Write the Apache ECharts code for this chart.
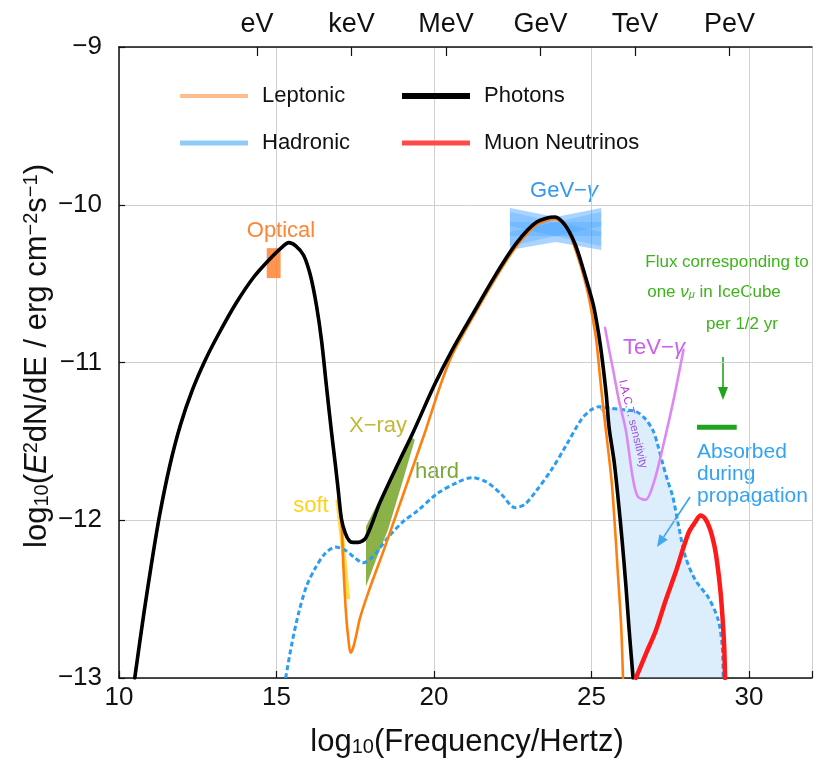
<!DOCTYPE html>
<html><head><meta charset="utf-8">
<script src="https://cdn.jsdelivr.net/npm/echarts@6/dist/echarts.min.js"></script>
<style>html,body{margin:0;padding:0;background:#fff}#c{width:815px;height:762px}</style>
</head><body><div id="c"></div><script>
const FONT = '"Liberation Sans", Arial, Helvetica, sans-serif';

// ---- data (log10 frequency [Hz], log10 flux [erg cm^-2 s^-1]) ----
const energyTicks = [14.38, 17.38, 20.38, 23.38, 26.38, 29.38];
const energyLabels = ['eV', 'keV', 'MeV', 'GeV', 'TeV', 'PeV'];

const photons = [[10.50,-13.00],[10.79,-12.59],[11.04,-12.265],[11.29,-11.967],[11.61,-11.656],[11.95,-11.396],[12.33,-11.174],[12.74,-10.984],[13.18,-10.813],[13.72,-10.623],[14.28,-10.458],[14.85,-10.331],[15.17,-10.27],[15.39,-10.24],[15.61,-10.26],[15.86,-10.32],[16.08,-10.45],[16.27,-10.64],[16.43,-10.86],[16.58,-11.14],[16.74,-11.43],[16.87,-11.65],[16.96,-11.81],[17.06,-11.99],[17.18,-12.08],[17.31,-12.13],[17.43,-12.14],[17.59,-12.14],[17.84,-12.11],[18.28,-11.89],[18.91,-11.62],[19.32,-11.45],[20.02,-11.14],[20.58,-10.92],[21.21,-10.70],[22.00,-10.43],[22.63,-10.24],[23.26,-10.11],[23.83,-10.078],[24.08,-10.109],[24.30,-10.173],[24.49,-10.255],[24.65,-10.350],[24.80,-10.452],[24.93,-10.540],[25.06,-10.636],[25.18,-10.762],[25.28,-10.889],[25.37,-11.028],[25.47,-11.206],[25.56,-11.415],[25.72,-11.631],[25.84,-11.853],[25.97,-12.125],[26.09,-12.410],[26.19,-12.683],[26.32,-13.00]];

const leptonic = [[10.50,-13.00],[10.79,-12.59],[11.04,-12.265],[11.29,-11.967],[11.61,-11.656],[11.95,-11.396],[12.33,-11.174],[12.74,-10.984],[13.18,-10.813],[13.72,-10.623],[14.28,-10.458],[14.85,-10.331],[15.17,-10.27],[15.39,-10.24],[15.61,-10.26],[15.86,-10.32],[16.08,-10.45],[16.27,-10.64],[16.43,-10.86],[16.58,-11.14],[16.74,-11.43],[16.87,-11.65],[16.96,-11.82],[17.06,-12.00],[17.13,-12.32],[17.21,-12.60],[17.28,-12.75],[17.35,-12.84],[17.43,-12.81],[17.53,-12.73],[17.65,-12.62],[17.91,-12.46],[18.44,-12.17],[19.07,-11.81],[19.70,-11.45],[20.21,-11.14],[20.58,-10.95],[21.21,-10.72],[22.00,-10.45],[22.63,-10.26],[23.26,-10.125],[23.83,-10.092],[24.10,-10.12],[24.30,-10.18],[24.58,-10.338],[24.74,-10.445],[24.90,-10.572],[25.02,-10.699],[25.15,-10.857],[25.28,-11.111],[25.40,-11.333],[25.53,-11.555],[25.65,-11.777],[25.75,-12.062],[25.84,-12.347],[25.94,-12.664],[26.00,-13.00]];

const hadronic = [[15.29,-13.00],[15.48,-12.79],[15.70,-12.59],[15.95,-12.42],[16.24,-12.30],[16.55,-12.21],[16.87,-12.17],[17.18,-12.19],[17.50,-12.24],[17.75,-12.27],[18.06,-12.23],[18.54,-12.11],[19.01,-12.01],[19.48,-11.94],[20.11,-11.83],[20.74,-11.76],[21.21,-11.73],[21.69,-11.76],[22.16,-11.84],[22.57,-11.92],[22.88,-11.90],[23.26,-11.81],[23.73,-11.68],[24.21,-11.52],[24.68,-11.36],[24.99,-11.30],[25.24,-11.28],[25.62,-11.29],[26.03,-11.30],[26.41,-11.31],[26.72,-11.36],[26.95,-11.43],[27.10,-11.52],[27.26,-11.64],[27.42,-11.75],[27.58,-11.85],[27.76,-12.03],[27.98,-12.23],[28.30,-12.38],[28.71,-12.49],[29.02,-12.63],[29.15,-12.80],[29.18,-13.00]];

const absorbedEdge = [[25.24,-11.28],[25.47,-11.35],[25.59,-11.44],[25.72,-11.59],[25.84,-11.81],[25.97,-12.13],[26.09,-12.44],[26.19,-12.70],[26.28,-13.00]];

const neutrinos = [[26.41,-13.00],[26.72,-12.85],[27.04,-12.70],[27.35,-12.51],[27.67,-12.33],[28.08,-12.08],[28.30,-12.01],[28.46,-11.97],[28.61,-11.99],[28.77,-12.06],[28.90,-12.16],[28.99,-12.27],[29.09,-12.44],[29.15,-12.59],[29.21,-12.79],[29.24,-13.00]];

const iactSensitivity = [[25.43,-10.78],[25.56,-10.92],[25.69,-11.05],[25.87,-11.24],[26.09,-11.43],[26.31,-11.73],[26.47,-11.85],[26.72,-11.87],[26.98,-11.76],[27.26,-11.54],[27.58,-11.26],[27.92,-10.92]];

const opticalBox = [[14.69,-10.275],[15.13,-10.275],[15.13,-10.465],[14.69,-10.465]];
const softXray = [[16.87,-11.87],[17.04,-11.87],[17.34,-12.50],[17.22,-12.50]];
const hardXray = [[17.84,-12.04],[19.26,-11.47],[19.39,-11.49],[19.01,-11.75],[18.54,-12.06],[18.16,-12.25],[17.84,-12.42]];
const gevOuter = [[22.41,-10.021],[23.86,-10.078],[25.31,-10.021],[25.31,-10.287],[23.86,-10.236],[22.41,-10.287]];
const gevBandA = [[22.41,-10.046],[25.31,-10.173],[25.31,-10.262],[22.41,-10.135]];
const gevBandB = [[22.41,-10.173],[25.31,-10.046],[25.31,-10.135],[22.41,-10.262]];
const gevBandC = [[22.41,-10.109],[25.31,-10.109],[25.31,-10.198],[22.41,-10.198]];
const icecubeLevel = [[28.35,-11.41],[29.61,-11.41]];

// ---- build ----
const absorbedPoly = hadronic.filter(p => p[0] >= 25.24).concat(absorbedEdge.slice().reverse());

function poly(points, fill, stroke, lw) {
  return {
    type: 'custom', coordinateSystem: 'cartesian2d', silent: true, clip: true, data: [0],
    renderItem: (params, api) => ({
      type: 'polygon',
      shape: { points: points.map(p => api.coord(p)) },
      style: { fill: fill, stroke: stroke || null, lineWidth: lw || 0 }
    })
  };
}
function line(name, data, color, width, type, smooth, cap) {
  return {
    name: name, type: 'line', data: data, showSymbol: false, symbol: 'none', silent: true,
    smooth: smooth === undefined ? 0.3 : smooth,
    lineStyle: { color: color, width: width, type: type || 'solid', cap: cap || 'round', join: 'round' }
  };
}
function legendItem(name, color, h, left, top) {
  return {
    left: left, top: top, padding: 0, icon: 'rect', itemWidth: 68, itemHeight: h,
    selectedMode: false,
    data: [{ name: name, itemStyle: { color: color } }],
    textStyle: { fontSize: 22, fontFamily: FONT, color: '#111', lineHeight: 26, padding: [0, 0, 0, 9] }
  };
}
const fmtMinus = v => (v < 0 ? '\u2212' + Math.abs(v) : String(v));

function txt(x, y, text, fill, size, extra, align) {
  return Object.assign({
    type: 'text', x: x, y: y, silent: true,
    style: { text: text, fill: fill, font: size + 'px ' + FONT, align: align || 'center', verticalAlign: 'middle' }
  }, extra || {});
}
function richTxt(x, y, text, fill, size, extra) {
  const base = { fontSize: size, fontFamily: FONT, fill: fill, color: fill };
  return Object.assign({
    type: 'text', x: x, y: y, silent: true,
    style: {
      text: text, fill: fill, font: size + 'px ' + FONT, align: 'center', verticalAlign: 'middle',
      rich: {
        n: Object.assign({}, base),
        i: Object.assign({}, base, { fontStyle: 'italic' }),
        s: Object.assign({}, base, { fontSize: Math.round(size * 0.65), verticalAlign: 'bottom', lineHeight: Math.round(size * 0.7) }),
        si: Object.assign({}, base, { fontStyle: 'italic', fontSize: Math.round(size * 0.65), verticalAlign: 'bottom', lineHeight: Math.round(size * 0.7) }),
        p: Object.assign({}, base, { fontSize: Math.round(size * 0.65), verticalAlign: 'top', lineHeight: Math.round(size * 0.7) })
      }
    }
  }, extra || {});
}

const chart = echarts.init(document.getElementById('c'), null, { renderer: 'canvas' });
chart.setOption({
  animation: false,
  backgroundColor: '#ffffff',
  grid: { left: 119, top: 47, width: 698, height: 631, containLabel: false },
  legend: [
    legendItem('Leptonic', '#ffbd8e', 4, 180, 83),
    legendItem('Hadronic', '#8ecbf8', 5, 180, 130),
    legendItem('Photons', '#000000', 6, 402, 83),
    legendItem('Muon Neutrinos', '#ff4a4a', 5, 402, 130)
  ],
  xAxis: [
    {
      type: 'value', min: 10, max: 32, interval: 5, position: 'bottom',
      axisLine: { show: true, lineStyle: { color: '#111', width: 1.5 } },
      axisTick: { show: true, inside: true, length: 7, lineStyle: { color: '#111', width: 1.2 } },
      axisLabel: { fontSize: 26, fontFamily: FONT, color: '#111', margin: 7,
        formatter: v => (Math.abs(v % 5) < 1e-9 ? String(v) : '') },
      splitLine: { show: true, lineStyle: { color: '#cfcfcf', width: 1 } }
    },
    {
      type: 'value', min: 10, max: 32, position: 'top',
      axisLine: { show: true, lineStyle: { color: '#111', width: 1.5 } },
      axisTick: { show: true, inside: true, length: 9, customValues: energyTicks, lineStyle: { color: '#111', width: 1.2 } },
      axisLabel: { show: true, customValues: energyTicks, fontSize: 27, fontFamily: FONT, color: '#111', margin: 9,
        formatter: v => {
          let best = 0;
          energyTicks.forEach((t, i) => { if (Math.abs(t - v) < Math.abs(energyTicks[best] - v)) best = i; });
          return energyLabels[best];
        } },
      splitLine: { show: false }
    }
  ],
  yAxis: {
    type: 'value', min: -13, max: -9, interval: 1,
    axisLine: { show: true, lineStyle: { color: '#111', width: 1.5 } },
    axisTick: { show: true, inside: true, length: 6, lineStyle: { color: '#111', width: 1.2 } },
    axisLabel: { fontSize: 26, fontFamily: FONT, color: '#111', margin: 17, formatter: fmtMinus },
    splitLine: { show: true, lineStyle: { color: '#cfcfcf', width: 1 } }
  },
  series: [
    poly(absorbedPoly, 'rgba(120,185,238,0.26)'),
    line(null, absorbedEdge, '#8cc6f0', 1.5, 'solid', 0.3),
    poly(gevOuter, 'rgba(51,153,255,0.42)'),
    poly(gevBandA, 'rgba(51,153,255,0.26)'),
    poly(gevBandB, 'rgba(51,153,255,0.26)'),
    poly(gevBandC, 'rgba(51,153,255,0.26)'),
    poly(opticalBox, 'rgba(255,130,50,0.85)'),
    poly(hardXray, 'rgba(118,165,40,0.85)'),
    poly(softXray, 'rgba(255,215,40,0.85)'),
    line('Hadronic', hadronic, '#2a9ef2', 3, [5, 3], 0.3, 'butt'),
    line('Leptonic', leptonic, '#ff7f0e', 2.6, 'solid', 0.3),
    line('Photons', photons, '#000000', 3.6, 'solid', 0.3),
    line('Muon Neutrinos', neutrinos, '#ff1a1a', 4.5, 'solid', 0.3),
    line(null, iactSensitivity, '#dd88f2', 2.6, 'solid', 0.3),
    line(null, icecubeLevel, '#1ea41e', 5, 'solid', 0, 'butt')
  ],
  graphic: [
    // axis titles
    richTxt(467, 742, '{n|log}{s|10}{n|(Frequency/Hertz)}', '#111', 31),
    richTxt(37, 356, '{n|log}{s|10}{n|(}{i|E}{p|2}{n|dN/dE / erg cm}{p|\u22122}{n|s}{p|\u22121}{n|)}', '#111', 31, { rotation: Math.PI / 2 }),
    // annotations
    txt(281, 231, 'Optical', '#ff8533', 22),
    richTxt(564, 191, '{n|GeV\u2212}{i|\u03b3}', '#3399ee', 22),
    txt(378, 426, 'X\u2212ray', '#c4b83a', 22),
    txt(311, 506, 'soft', '#ffd21f', 22),
    txt(437, 472, 'hard', '#7aa836', 22),
    richTxt(654, 348, '{n|TeV\u2212}{i|\u03b3}', '#cc5ff0', 22),
    txt(633, 424, 'I.A.C.T. sensitivity', '#b030d8', 11.5, { rotation: -1.33 }),
    txt(727, 262, 'Flux corresponding to', '#3cb41a', 17),
    richTxt(714, 292, '{n|one }{i|\u03bd}{si|\u03bc}{n| in IceCube}', '#3cb41a', 17),
    txt(742, 324, 'per 1/2 yr', '#3cb41a', 17),
    txt(697, 452, 'Absorbed', '#33a3f2', 21, null, 'left'),
    txt(697, 474, 'during', '#33a3f2', 21, null, 'left'),
    txt(697, 496, 'propagation', '#33a3f2', 21, null, 'left'),
    // arrows
    { type: 'line', silent: true, shape: { x1: 690, y1: 497, x2: 663.6, y2: 537 }, style: { stroke: '#33a3f2', lineWidth: 1.6 } },
    { type: 'polygon', silent: true, shape: { points: [[657, 547], [667.8, 539.8], [659.4, 534.2]] }, style: { fill: '#33a3f2' } },
    { type: 'line', silent: true, shape: { x1: 723, y1: 357, x2: 723, y2: 389 }, style: { stroke: '#1ea41e', lineWidth: 1.6 } },
    { type: 'polygon', silent: true, shape: { points: [[723, 400], [718, 387], [728, 387]] }, style: { fill: '#1ea41e' } }
  ]
});
</script></body></html>
